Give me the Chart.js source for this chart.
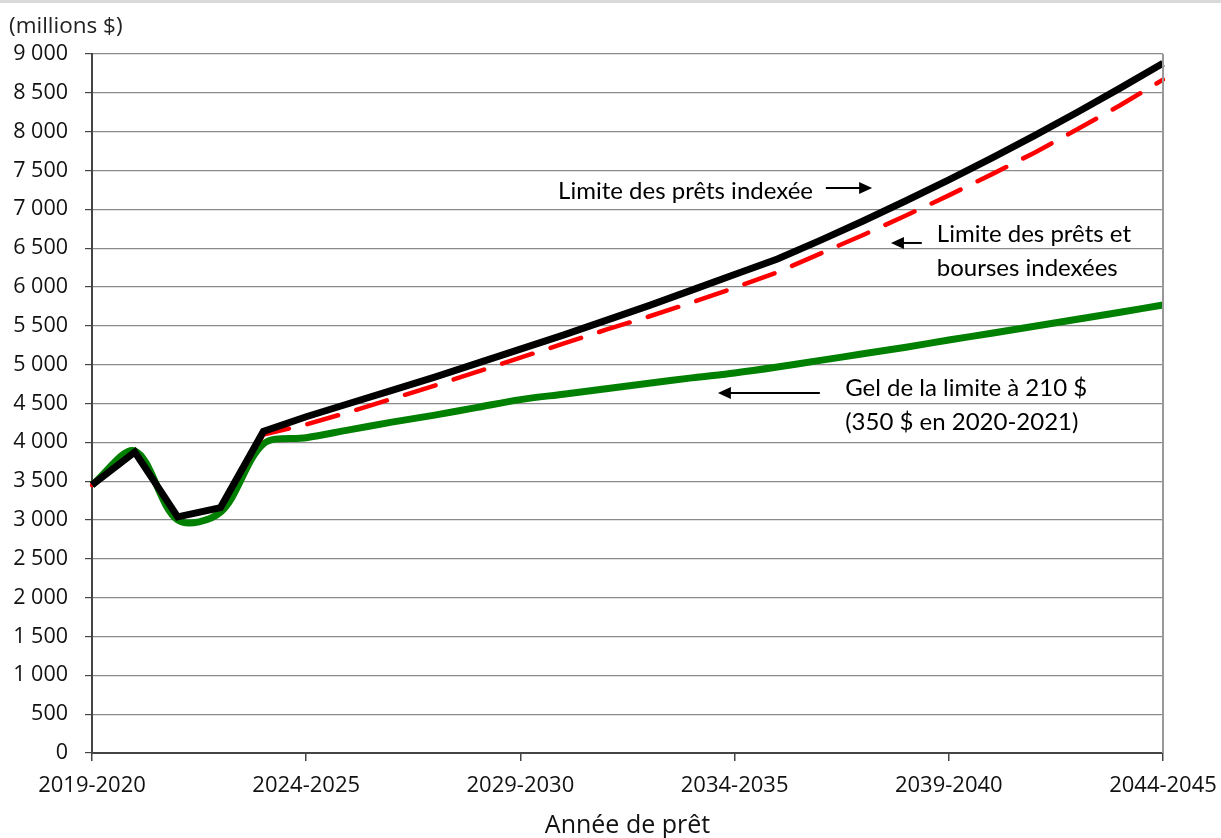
<!DOCTYPE html>
<html>
<head>
<meta charset="utf-8">
<script src="https://cdn.jsdelivr.net/npm/chart.js@4"></script>
<style>
  body { margin: 0; background: #fff; }
  #wrap { width: 1221px; height: 838px; border-top: 3px solid #d9d9d9; box-sizing: border-box; position: relative; }
  #box { position: relative; width: 1221px; height: 835px; }
</style>
</head>
<body>
<div id="wrap"><div id="box"><canvas id="loanChart"></canvas></div></div>
<script>
const years = [
    '2019-2020', '2020-2021', '2021-2022', '2022-2023', '2023-2024', '2024-2025',
    '2025-2026', '2026-2027', '2027-2028', '2028-2029', '2029-2030', '2030-2031',
    '2031-2032', '2032-2033', '2033-2034', '2034-2035', '2035-2036', '2036-2037',
    '2037-2038', '2038-2039', '2039-2040', '2040-2041', '2041-2042', '2042-2043',
    '2043-2044', '2044-2045'
];

// millions $
const indexedLoans = [3450, 3875, 3040, 3160, 4140, 4330, 4500, 4670, 4840, 5020, 5200, 5380, 5570,
    5760, 5960, 6160, 6360, 6600, 6850, 7110, 7380, 7660, 7950, 8250, 8560, 8880];
const indexedLoansGrants = [3450, 3875, 3040, 3150, 4100, 4230, 4390, 4560, 4730, 4910, 5090, 5270, 5450,
    5620, 5800, 5990, 6190, 6430, 6670, 6920, 7180, 7450, 7730, 8030, 8340, 8670];
const frozenLimit = [3450, 3890, 3000, 3100, 3980, 4060, 4160, 4260, 4350, 4450, 4550, 4620, 4690,
    4760, 4830, 4893, 4970, 5055, 5140, 5225, 5317, 5405, 5495, 5585, 5675, 5768];

const yTicks = { min: 0, max: 9000, step: 500 };

// callouts, placed in data units (x = category index, y = millions $)
const notes = [
    { lines: ['Limite des prêts indexée'], x: 10.88, y: 7230, arrow: [17.13, 18.21, 7274] },
    { lines: ['Limite des prêts et', 'bourses indexées'], x: 19.72, y: 6680, arrow: [19.37, 18.65, 6567] },
    { lines: ['Gel de la limite à 210 $', '(350 $ en 2020-2021)'], x: 17.58, y: 4690, arrow: [16.99, 14.61, 4635] }
];

function spaced(v) {
    return String(v).replace(/\B(?=(\d{3})+(?!\d))/g, ' ');
}

const noteFont = "24px 'Lato', sans-serif";

const extras = {
    id: 'extras',
    afterDatasetsDraw(chart) {
        const ctx = chart.ctx;
        const { x, y } = chart.scales;
        const area = chart.chartArea;
        ctx.save();
        // plot border on the right
        ctx.strokeStyle = '#999';
        ctx.lineWidth = 2;
        ctx.beginPath();
        ctx.moveTo(area.right, area.top);
        ctx.lineTo(area.right, area.bottom);
        ctx.stroke();

        ctx.fillStyle = '#000';
        ctx.strokeStyle = '#000';
        ctx.font = noteFont;
        ctx.textAlign = 'left';
        ctx.textBaseline = 'middle';
        notes.forEach(n => {
            const px = x.getPixelForValue(n.x);
            const py = y.getPixelForValue(n.y);
            n.lines.forEach((t, i) => ctx.fillText(t, px, py + i * 34));
            const x0 = x.getPixelForValue(n.arrow[0]);
            const x1 = x.getPixelForValue(n.arrow[1]);
            const ay = y.getPixelForValue(n.arrow[2]);
            const dir = x1 > x0 ? 1 : -1;
            ctx.lineWidth = 2;
            ctx.beginPath();
            ctx.moveTo(x0, ay);
            ctx.lineTo(x1 - dir * 10, ay);
            ctx.stroke();
            ctx.beginPath();
            ctx.moveTo(x1, ay);
            ctx.lineTo(x1 - dir * 13, ay - 6);
            ctx.lineTo(x1 - dir * 13, ay + 6);
            ctx.closePath();
            ctx.fill();
        });
        ctx.restore();
    },
    afterDraw(chart) {
        const ctx = chart.ctx;
        ctx.save();
        ctx.fillStyle = '#222';
        ctx.font = "22.5px 'Open Sans', sans-serif";
        ctx.textAlign = 'left';
        ctx.textBaseline = 'middle';
        ctx.fillText('(millions $)', 9, 24);
        ctx.restore();
    }
};

new Chart(document.getElementById('loanChart'), {
    type: 'line',
    data: {
        labels: years,
        datasets: [
            {
                label: 'Limite des prêts indexée',
                data: indexedLoans,
                borderColor: '#000000',
                borderWidth: 7,
                borderJoinStyle: 'miter',
                pointRadius: 0,
                tension: 0
            },
            {
                label: 'Limite des prêts et bourses indexées',
                data: indexedLoansGrants,
                borderColor: '#ff0000',
                borderWidth: 4.5,
                borderDash: [32, 19],
                borderCapStyle: 'round',
                pointRadius: 0,
                tension: 0
            },
            {
                label: 'Gel de la limite à 210 $',
                data: frozenLimit,
                borderColor: '#008000',
                borderWidth: 7,
                pointRadius: 0,
                tension: 0.32
            }
        ]
    },
    options: {
        responsive: true,
        maintainAspectRatio: false,
        animation: false,
        layout: { padding: { top: 51, right: 58, left: 0, bottom: 0 } },
        scales: {
            x: {
                offset: false,
                afterFit: scale => {
                    scale.height = 85;
                    scale.paddingLeft = 0;
                    scale.paddingRight = 0;
                },
                border: { color: '#444', width: 2 },
                grid: { display: true, drawOnChartArea: false, drawTicks: true, tickLength: 8, color: '#444', lineWidth: 1.5 },
                ticks: {
                    autoSkip: false,
                    maxRotation: 0,
                    padding: 12,
                    color: '#111',
                    font: { family: "'Open Sans', sans-serif", size: 22 },
                    callback: function(value, index) {
                        return index % 5 === 0 ? this.getLabelForValue(value) : null;
                    }
                },
                title: {
                    display: true,
                    text: 'Année de prêt',
                    color: '#111',
                    padding: { top: 0, bottom: 0 },
                    font: { family: "'Open Sans', sans-serif", size: 25, lineHeight: 1 }
                }
            },
            y: {
                min: yTicks.min,
                max: yTicks.max,
                afterFit: scale => { scale.width = 92; },
                border: { color: '#444', width: 2 },
                grid: { color: '#8a8a8a', lineWidth: 1.2, tickLength: 7, tickColor: '#444' },
                ticks: {
                    stepSize: yTicks.step,
                    padding: 17,
                    color: '#111',
                    font: { family: "'Open Sans', sans-serif", size: 21.5 },
                    callback: value => spaced(value)
                }
            }
        },
        plugins: {
            legend: { display: false },
            tooltip: { enabled: false }
        }
    },
    plugins: [extras]
});
</script>
</body>
</html>
